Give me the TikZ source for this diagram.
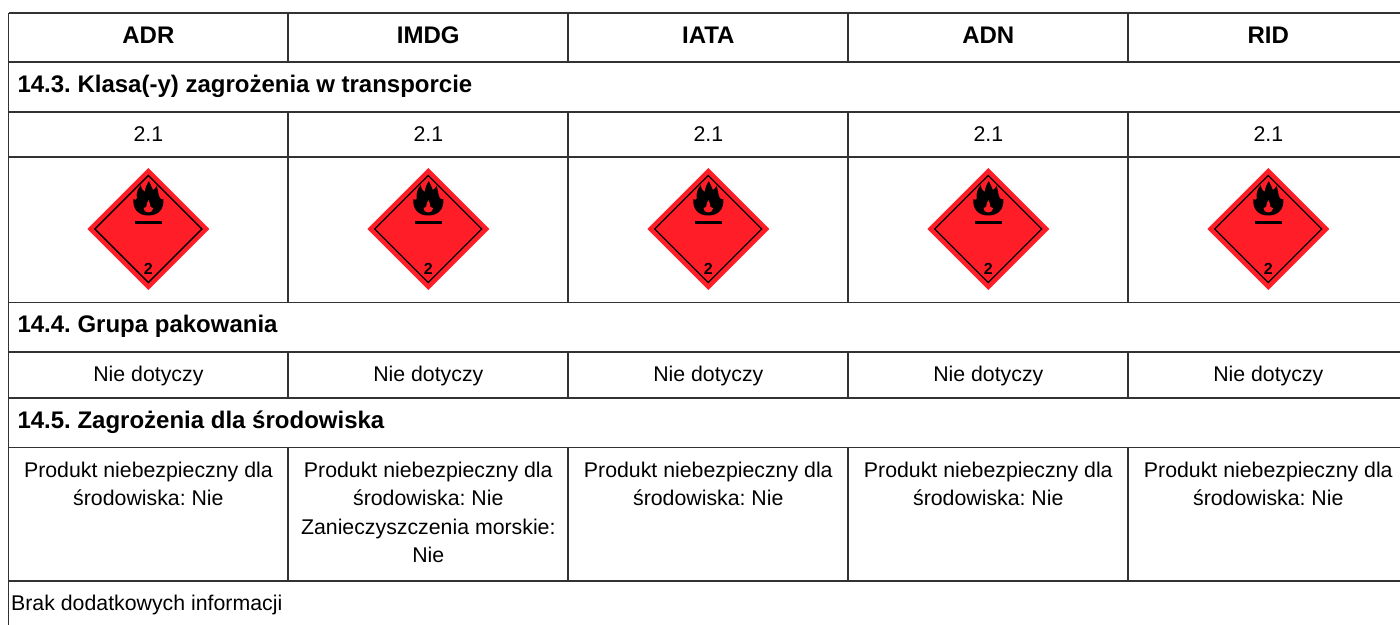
\documentclass[tikz,border=0pt]{standalone}
\usepackage{fontspec}
\setmainfont{Liberation Sans}
\frenchspacing
\definecolor{gridline}{RGB}{50,50,50}
\definecolor{hazred}{RGB}{255,30,40}
\tikzset{
  gridl/.style={draw=gridline, line width=1.7pt},
  bodytxt/.style={inner sep=0pt, anchor=base, font=\fontsize{21.3}{28.4}\selectfont},
  headtxt/.style={inner sep=0pt, anchor=base, font=\fontsize{24}{28}\selectfont\bfseries},
  sectxt/.style={inner sep=0pt, anchor=base west, font=\fontsize{24}{28}\selectfont\bfseries},
  envtxt/.style={inner sep=0pt, anchor=north, align=center, font=\fontsize{21.3}{28.4}\selectfont},
  hazard/.pic={
    \fill[hazred] (0,61) -- (61,0) -- (0,-61) -- (-61,0) -- cycle;
    \draw[black, line width=1.3pt] (0,53.5) -- (53.5,0) -- (0,-53.5) -- (-53.5,0) -- cycle;
    \fill[black] (0,13.5)
      .. controls (-10,13.5) and (-16,20) .. (-15,30)
      .. controls (-13.5,28.5) and (-12.5,29) .. (-11.5,30.5)
      .. controls (-12.5,36) and (-10.5,40.5) .. (-7.5,44)
      .. controls (-7,40) and (-5.5,38) .. (-3.5,37)
      .. controls (-3.5,41) and (-1.5,44.5) .. (0.5,48)
      .. controls (2,44.5) and (4,41) .. (4.5,39)
      .. controls (6,40) and (7.5,41) .. (8.5,43.5)
      .. controls (9.5,38) and (10,34) .. (11.5,31)
      .. controls (13,29.5) and (14,29) .. (15,30)
      .. controls (16,20) and (10,13.5) .. (0,13.5) -- cycle;
    \fill[hazred] (0,16.5)
      .. controls (-3,16.5) and (-4.8,18.3) .. (-4.8,21)
      .. controls (-3.8,20.8) and (-2.8,21.3) .. (-2.2,22)
      .. controls (-2.2,24.5) and (-1,26.8) .. (0,29)
      .. controls (1,26.8) and (2.2,24.5) .. (2.2,22)
      .. controls (2.8,21.3) and (3.8,20.8) .. (4.8,21)
      .. controls (4.8,18.3) and (3,16.5) .. (0,16.5) -- cycle;
    \fill[black] (-13.5,5.5) rectangle (13.5,8.5);
    \node[inner sep=0pt, font=\fontsize{16}{16}\selectfont\bfseries] (-num) at (0,-39.5) {2};
  }
}
\begin{document}
\begin{tikzpicture}[x=1pt, y=-1pt]
\useasboundingbox (0,0) rectangle (1400,624);
\clip (0,0) rectangle (1400,624);
\fill[white] (0,0) rectangle (1400,624);
% horizontal grid lines
\foreach \yy in {13,62.3,112,157.3,302.5,352,398,447.5,581}
  \draw[gridl] (8.5,\yy) -- (1408.3,\yy);
% outer verticals
\draw[gridl] (8.5,13) -- (8.5,640);
\draw[gridl] (1408.3,13) -- (1408.3,640);
% column dividers
\foreach \xx in {288.3,568.3,848.3,1128.3} {
  \draw[gridl] (\xx,13) -- (\xx,62.3);
  \draw[gridl] (\xx,112) -- (\xx,302.5);
  \draw[gridl] (\xx,352) -- (\xx,398);
  \draw[gridl] (\xx,447.5) -- (\xx,581);
}
% columns
\foreach \cx/\nm/\lab in {148.4/adr/ADR,428.3/imdg/IMDG,708.3/iata/IATA,988.3/adn/ADN,1268.3/rid/RID} {
  \node[headtxt] (\nm-head) at (\cx,43.7) {\lab};
  \node[bodytxt] (\nm-class) at (\cx,141.7) {2.1};
  \pic[yscale=-1] (\nm-haz) at (\cx,229) {hazard};
  \node[bodytxt] (\nm-pack) at (\cx,381.5) {Nie dotyczy};
}
% section headings
\node[sectxt] (s143) at (17.3,92.3) {14.3. Klasa(-y) zagrożenia w transporcie};
\node[sectxt] (s144) at (17.3,332.3) {14.4. Grupa pakowania};
\node[sectxt] (s145) at (17.3,428.3) {14.5. Zagrożenia dla środowiska};
% environment cells
\node[envtxt] (adr-env) at (148.4,461.7) {Produkt niebezpieczny dla\\środowiska: Nie};
\node[envtxt] (imdg-env) at (428.3,461.7) {Produkt niebezpieczny dla\\środowiska: Nie\\Zanieczyszczenia morskie:\\Nie};
\node[envtxt] (iata-env) at (708.3,461.7) {Produkt niebezpieczny dla\\środowiska: Nie};
\node[envtxt] (adn-env) at (988.3,461.7) {Produkt niebezpieczny dla\\środowiska: Nie};
\node[envtxt] (rid-env) at (1268.3,461.7) {Produkt niebezpieczny dla\\środowiska: Nie};
% additional info
\node[bodytxt, anchor=base west] (extra) at (11,610.5) {Brak dodatkowych informacji};
\end{tikzpicture}
\end{document}
